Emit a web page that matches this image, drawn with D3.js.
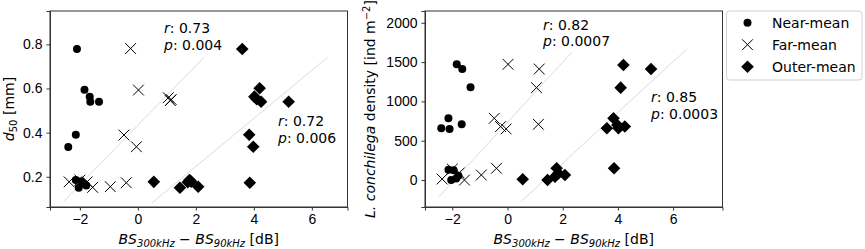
<!DOCTYPE html>
<html>
<head>
<meta charset="utf-8">
<script src="https://cdn.jsdelivr.net/npm/d3@7"></script>
<style>
  html, body { margin: 0; padding: 0; background: #fff; }
  svg { display: block; font-family: "DejaVu Sans", sans-serif; }
  .axis text { font-size: 14px; fill: #000; }
  .axis path, .axis line { stroke: #333; stroke-width: 1; }
</style>
</head>
<body>
<div id="chart"></div>
<script>
// BS300kHz - BS90kHz per group, shared by both panels
const nearX  = [-2.4, -2.14, -2.1, -1.84, -1.66, -1.64, -1.34, -2.14, -2.04, -1.95, -1.86, -1.78];
const nearD50 = [0.335, 0.390, 0.779, 0.594, 0.563, 0.540, 0.540, 0.185, 0.150, 0.180, 0.170, 0.160];
const nearDens = [658, 785, 649, 1472, 709, 1412, 1179, 130, 0, 125, 20, 55];

const farX   = [-2.37, -2.0, -1.75, -1.56, -0.95, -0.40, -0.48, -0.25, -0.05, 0.02, 1.05, 1.12, 1.15];
const farD50 = [0.177, 0.185, 0.177, 0.152, 0.155, 0.173, 0.389, 0.781, 0.336, 0.593, 0.558, 0.545, 0.550];
const farDens = [13, 140, 90, 0, 64, 149, 785, 680, 650, 1472, 1175, 709, 1412];

const outerX   = [0.55, 1.45, 1.72, 1.78, 1.84, 2.08, 3.6, 3.84, 3.86, 3.98, 4.02, 4.1, 4.2, 4.25, 5.2];
const outerD50 = [0.177, 0.150, 0.175, 0.185, 0.178, 0.155, 0.779, 0.390, 0.173, 0.336, 0.563, 0.551, 0.601, 0.540, 0.540];
const outerDens = [10, 0, 42, 149, 85, 64, 658, 785, 149, 700, 658, 1175, 1463, 680, 1412];

// regression line end points [x0, x1] / [y0, y1]
const fitD50A  = { x: [-2.54, 2.28], y: [0.091, 0.741] };
const fitD50B  = { x: [0.49, 6.54],  y: [0.082, 0.741] };
const fitDensA = { x: [-2.48, 2.33], y: [-212, 1625] };
const fitDensB = { x: [0.48, 6.49],  y: [-276, 1663] };

const xTicks = [-2, 0, 2, 4, 6];
const d50Ticks = [0.2, 0.4, 0.6, 0.8];
const densTicks = [0, 500, 1000, 1500, 2000];
const legendLabels = ["Near-mean", "Far-mean", "Outer-mean"];

const W = 865, H = 249;
const FS = 14;
const svg = d3.select("#chart").append("svg").attr("width", W).attr("height", H);

const fmtMinus = d => d3.format("")(d).replace("-", "\u2212");

const crossPath = "M-5.4,-5.4L5.4,5.4M-5.4,5.4L5.4,-5.4";
const diamondPath = "M0,-6.3L6.3,0L0,6.3L-6.3,0Z";

function panel(opt) {
  const x = d3.scaleLinear().domain(opt.xDom).range([opt.left, opt.left + 297.5]);
  const y = d3.scaleLinear().domain(opt.yDom).range([207, 11]);

  // fit lines
  [opt.fitA, opt.fitB].forEach(f => {
    svg.append("line")
      .attr("x1", x(f.x[0])).attr("y1", y(f.y[0]))
      .attr("x2", x(f.x[1])).attr("y2", y(f.y[1]))
      .attr("stroke", "#dcdcdc").attr("stroke-width", 1);
  });

  // axes
  svg.append("g").attr("class", "axis").attr("transform", "translate(0,207)")
    .call(d3.axisBottom(x).tickValues(xTicks).tickFormat(fmtMinus).tickSizeOuter(0).tickSize(3.5).tickPadding(4));
  svg.append("g").attr("class", "axis").attr("transform", `translate(${opt.left},0)`)
    .call(d3.axisLeft(y).tickValues(opt.yTicks).tickFormat(opt.yFmt).tickSizeOuter(0).tickSize(3.5).tickPadding(4));
  svg.append("rect").attr("x", opt.left).attr("y", 11).attr("width", 297.5).attr("height", 196)
    .attr("fill", "none").attr("stroke", "#333").attr("stroke-width", 1);

  // markers
  const g = svg.append("g");
  g.selectAll(".near").data(d3.zip(nearX, opt.near)).join("circle")
    .attr("cx", d => x(d[0])).attr("cy", d => y(d[1])).attr("r", 4).attr("fill", "#000");
  g.selectAll(".far").data(d3.zip(farX, opt.far)).join("path")
    .attr("transform", d => `translate(${x(d[0])},${y(d[1])})`)
    .attr("d", crossPath)
    .attr("stroke", "#000").attr("stroke-width", 1).attr("fill", "none");
  g.selectAll(".outer").data(d3.zip(outerX, opt.outer)).join("path")
    .attr("transform", d => `translate(${x(d[0])},${y(d[1])})`)
    .attr("d", diamondPath).attr("fill", "#000");

  // r / p annotations
  opt.notes.forEach(n => {
    const t1 = svg.append("text").attr("x", n.x).attr("y", n.y).attr("font-size", FS);
    t1.append("tspan").attr("font-style", "italic").text("r");
    t1.append("tspan").text(": " + n.r);
    const t2 = svg.append("text").attr("x", n.x).attr("y", n.y + 16.5).attr("font-size", FS);
    t2.append("tspan").attr("font-style", "italic").text("p");
    t2.append("tspan").text(": " + n.p);
  });

  // x label
  const cx = opt.left + 297.5 / 2;
  const xl = svg.append("text").attr("x", cx).attr("y", 243.5).attr("text-anchor", "middle").attr("font-size", FS);
  xl.append("tspan").attr("font-style", "italic").text("BS");
  xl.append("tspan").attr("font-style", "italic").attr("font-size", 10).attr("dy", 3).text("300kHz");
  xl.append("tspan").attr("dy", -3).text(" \u2212 ");
  xl.append("tspan").attr("font-style", "italic").text("BS");
  xl.append("tspan").attr("font-style", "italic").attr("font-size", 10).attr("dy", 3).text("90kHz");
  xl.append("tspan").attr("dy", -3).text(" [dB]");

  opt.yLabel(svg.append("text")
    .attr("transform", `translate(${opt.yLabelX},109) rotate(-90)`)
    .attr("text-anchor", "middle").attr("font-size", FS));
}

panel({
  left: 50, xDom: [-3.03, 7.23], yDom: [0.063, 0.951],
  yTicks: d50Ticks, yFmt: d3.format(".1f"),
  near: nearD50, far: farD50, outer: outerD50,
  fitA: fitD50A, fitB: fitD50B,
  notes: [{ x: 164, y: 33, r: "0.73", p: "0.004" }, { x: 278, y: 126, r: "0.72", p: "0.006" }],
  yLabelX: 13.5,
  yLabel: t => {
    t.append("tspan").attr("font-style", "italic").text("d");
    t.append("tspan").attr("font-size", 10).attr("dy", 3).text("50");
    t.append("tspan").attr("dy", -3).text(" [mm]");
  }
});

panel({
  left: 425, xDom: [-2.99, 7.79], yDom: [-343, 2150],
  yTicks: densTicks, yFmt: d3.format("d"),
  near: nearDens, far: farDens, outer: outerDens,
  fitA: fitDensA, fitB: fitDensB,
  notes: [{ x: 543, y: 29.5, r: "0.82", p: "0.0007" }, { x: 651, y: 102, r: "0.85", p: "0.0003" }],
  yLabelX: 375,
  yLabel: t => {
    t.append("tspan").attr("font-style", "italic").text("L. conchilega");
    t.append("tspan").text(" density [ind m");
    t.append("tspan").attr("font-size", 10).attr("dy", -5).text("\u22122");
    t.append("tspan").attr("dy", 5).text("]");
  }
});

// legend
const lg = svg.append("g").attr("transform", "translate(726.5,11)");
lg.append("rect").attr("width", 135.5).attr("height", 69).attr("rx", 3)
  .attr("fill", "#fff").attr("stroke", "#d0d0d0").attr("stroke-width", 1);
legendLabels.forEach((lab, i) => {
  const yy = 11.7 + i * 22;
  const m = lg.append("g").attr("transform", `translate(21,${yy})`);
  if (i === 0) m.append("circle").attr("r", 4).attr("fill", "#000");
  if (i === 1) m.append("path").attr("d", crossPath).attr("stroke", "#000").attr("fill", "none");
  if (i === 2) m.append("path").attr("d", diamondPath).attr("fill", "#000");
  lg.append("text").attr("x", 45.5).attr("y", yy + 5).attr("font-size", FS).text(lab);
});
</script>
</body>
</html>
